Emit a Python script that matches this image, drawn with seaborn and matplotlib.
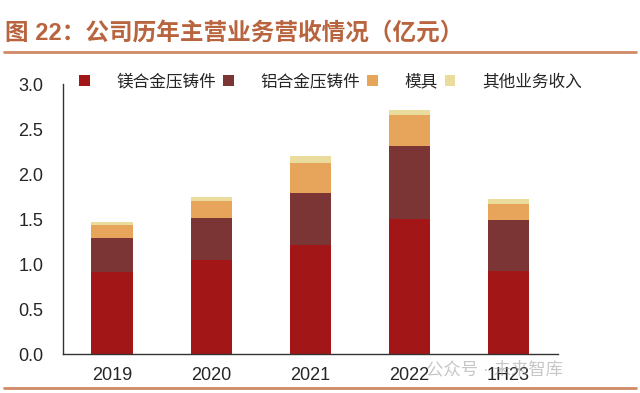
import pandas as pd
import matplotlib.pyplot as plt
import seaborn as sns
from matplotlib.patches import Patch
from matplotlib.lines import Line2D

# data (亿元)
years = ["2019", "2020", "2021", "2022", "1H23"]
mg = [0.91, 1.04, 1.21, 1.50, 0.92]      # 镁合金压铸件
al = [0.38, 0.47, 0.58, 0.81, 0.57]      # 铝合金压铸件
mold = [0.14, 0.19, 0.33, 0.35, 0.18]    # 模具
other = [0.04, 0.04, 0.08, 0.05, 0.05]   # 其他业务收入

names = ["镁合金压铸件", "铝合金压铸件", "模具", "其他业务收入"]
colors = ["#A31617", "#7B3535", "#E7A45B", "#E9DC9C"]

df = pd.DataFrame({"year": years, "mg": mg, "al": al, "mold": mold, "other": other})
# cumulative tops for stacking
df["c1"] = df["mg"]
df["c2"] = df["c1"] + df["al"]
df["c3"] = df["c2"] + df["mold"]
df["c4"] = df["c3"] + df["other"]

sns.set_style("white")
plt.rcParams["font.family"] = ["Liberation Sans", "Noto Sans CJK SC", "DejaVu Sans"]

fig = plt.figure(figsize=(6.4, 3.93), dpi=100)
ax = fig.add_axes([0.098, 0.099, 0.774, 0.687])

for col, c in zip(["c4", "c3", "c2", "c1"], colors[::-1]):
    sns.barplot(data=df, x="year", y=col, color=c, width=0.42, saturation=1,
                linewidth=0, edgecolor="none", ax=ax)

ax.set_ylim(0, 3.0)
ax.set_xlim(-0.5, 4.5)
ax.set_yticks([0, 0.5, 1.0, 1.5, 2.0, 2.5, 3.0])
ax.set_yticklabels(["0.0", "0.5", "1.0", "1.5", "2.0", "2.5", "3.0"], fontsize=13)
ax.set_xlabel("")
ax.set_ylabel("")
ax.set_xticks(range(len(years)))
ax.set_xticklabels(years, fontsize=13)
ax.tick_params(axis="x", length=0, pad=9)
ax.set_xticks([i - 0.5 for i in range(len(years) + 1)], minor=True)
ax.tick_params(axis="x", which="minor", direction="in", length=5, color="#333333")
ax.tick_params(axis="y", direction="in", length=5, color="#333333", pad=14)

for s in ["top", "right"]:
    ax.spines[s].set_visible(False)
for s in ["left", "bottom"]:
    ax.spines[s].set_color("#333333")
    ax.spines[s].set_linewidth(1)

handles = [Patch(facecolor=c, edgecolor="none") for c in colors]
ax.legend(handles, names, ncol=4, loc="lower left", bbox_to_anchor=(0.02, 0.955),
          frameon=False, fontsize=12, handlelength=0.65, handleheight=0.65,
          handletextpad=1.6, columnspacing=0.4, borderaxespad=0)

fig.text(0.008, 0.914, "图 22：公司历年主营业务营收情况（亿元）", fontsize=17,
         fontweight="bold", color="#B8643E", va="center")
fig.add_artist(Line2D([0.006, 0.994], [0.868, 0.868], color="#CF8A66", lw=2))
fig.add_artist(Line2D([0.006, 0.994], [0.012, 0.012], color="#CF8A66", lw=2))
fig.text(0.665, 0.062, "公众号 · 未来智库", fontsize=12.5, color="#9a9a9a", alpha=0.55,
         va="center")

fig.savefig("out.png", dpi=100)
